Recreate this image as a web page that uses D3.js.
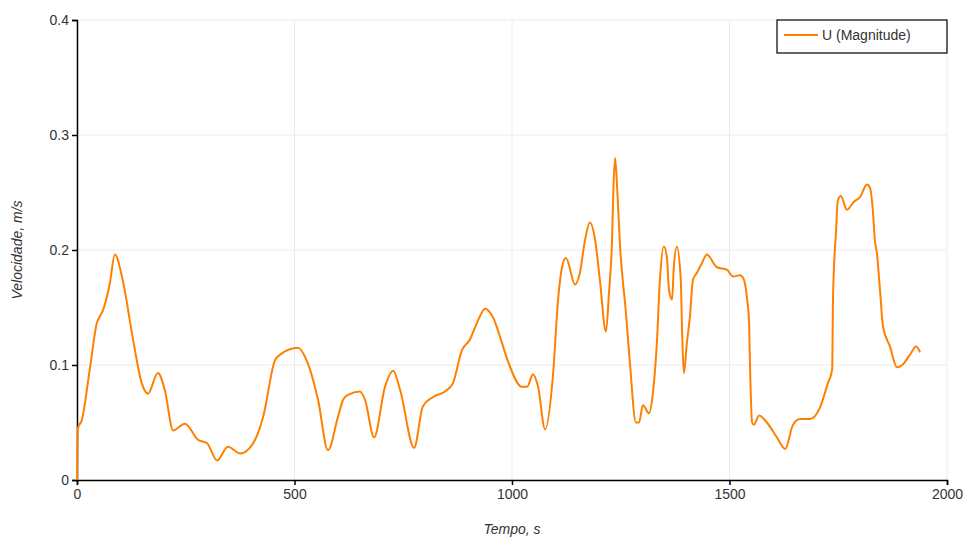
<!DOCTYPE html>
<html>
<head>
<meta charset="utf-8">
<script src="https://cdn.jsdelivr.net/npm/d3@7"></script>
<style>
  body { margin: 0; background: #fff; }
  text { font-family: "Liberation Sans", Arial, sans-serif; fill: #333; }
</style>
</head>
<body>
<svg id="chart" width="973" height="543"></svg>
<script>
// series: time (s) and velocity magnitude (m/s)
var times = [0, 2, 11, 30, 46, 52, 60, 75, 87, 105, 128, 149, 163, 186, 202, 221, 248, 278, 299, 322, 347, 375, 405, 428, 455, 467, 508, 529, 554, 577, 600, 612, 623, 650, 662, 683, 708, 727, 743, 775, 795, 818, 846, 864, 885, 903, 920, 938, 957, 977, 991, 1023, 1035, 1048, 1060, 1076, 1094, 1106, 1115, 1124, 1145, 1156, 1168, 1179, 1191, 1202, 1216, 1223, 1230, 1233, 1237, 1242, 1248, 1262, 1271, 1285, 1292, 1301, 1315, 1324, 1333, 1340, 1349, 1356, 1361, 1368, 1372, 1379, 1388, 1391, 1395, 1402, 1409, 1416, 1425, 1437, 1448, 1471, 1494, 1508, 1524, 1531, 1540, 1545, 1547, 1552, 1556, 1568, 1586, 1609, 1628, 1646, 1662, 1685, 1708, 1726, 1736, 1738, 1745, 1749, 1756, 1770, 1786, 1800, 1816, 1823, 1830, 1834, 1839, 1846, 1853, 1869, 1885, 1897, 1915, 1929, 1938];
var velocity = [0, 0.045, 0.052, 0.098, 0.137, 0.142, 0.148, 0.17, 0.196, 0.174, 0.124, 0.084, 0.075, 0.093, 0.078, 0.043, 0.049, 0.035, 0.032, 0.017, 0.029, 0.023, 0.032, 0.055, 0.104, 0.109, 0.115, 0.103, 0.07, 0.026, 0.055, 0.07, 0.074, 0.077, 0.07, 0.037, 0.081, 0.095, 0.078, 0.028, 0.064, 0.072, 0.077, 0.084, 0.113, 0.122, 0.137, 0.149, 0.141, 0.119, 0.103, 0.081, 0.081, 0.092, 0.081, 0.044, 0.09, 0.157, 0.185, 0.193, 0.17, 0.18, 0.209, 0.224, 0.209, 0.174, 0.129, 0.163, 0.209, 0.252, 0.28, 0.252, 0.206, 0.145, 0.102, 0.05, 0.05, 0.065, 0.058, 0.076, 0.119, 0.174, 0.203, 0.194, 0.165, 0.157, 0.185, 0.203, 0.174, 0.13, 0.093, 0.119, 0.142, 0.174, 0.18, 0.189, 0.196, 0.185, 0.183, 0.177, 0.178, 0.176, 0.159, 0.137, 0.102, 0.05, 0.048, 0.056, 0.05, 0.037, 0.027, 0.048, 0.053, 0.053, 0.063, 0.084, 0.096, 0.159, 0.217, 0.243, 0.247, 0.235, 0.242, 0.246, 0.257, 0.254, 0.232, 0.209, 0.197, 0.165, 0.133, 0.116, 0.098, 0.1, 0.109, 0.116, 0.111];
var xTicks = [0, 500, 1000, 1500, 2000];
var yTicks = [0, 0.1, 0.2, 0.3, 0.4];
var seriesName = "U (Magnitude)";

var margin = { top: 20, right: 26, bottom: 63, left: 77 };
var width = 973 - margin.left - margin.right;
var height = 543 - margin.top - margin.bottom;

var svg = d3.select("#chart")
    .append("g")
    .attr("transform", "translate(" + margin.left + "," + margin.top + ")");

var x = d3.scaleLinear().domain([0, 2000]).range([0, width]);
var y = d3.scaleLinear().domain([0, 0.4]).range([height, 0]);

// grid
svg.append("g")
    .selectAll("line")
    .data(xTicks)
    .enter().append("line")
    .attr("x1", function (d) { return x(d); })
    .attr("x2", function (d) { return x(d); })
    .attr("y1", 0)
    .attr("y2", height)
    .attr("stroke", "#ececec");

svg.append("g")
    .selectAll("line")
    .data(yTicks)
    .enter().append("line")
    .attr("x1", 0)
    .attr("x2", width)
    .attr("y1", function (d) { return y(d); })
    .attr("y2", function (d) { return y(d); })
    .attr("stroke", "#ececec");

// axes
var xAxis = svg.append("g")
    .attr("transform", "translate(0," + height + ")")
    .call(d3.axisBottom(x).tickValues(xTicks).tickSize(5).tickPadding(4).tickFormat(d3.format("d")));

var yAxis = svg.append("g")
    .call(d3.axisLeft(y).tickValues(yTicks).tickSize(5).tickPadding(3)
        .tickFormat(function (d) { return d === 0 ? "0" : d3.format(".1f")(d); }));

[xAxis, yAxis].forEach(function (a) {
    a.select(".domain").attr("stroke", "#000").attr("stroke-width", 1.5);
    a.selectAll(".tick line").attr("stroke", "#000").attr("stroke-width", 1.5);
    a.selectAll("text").attr("font-size", 14).attr("fill", "#333")
        .style("font-family", "Liberation Sans, Arial, sans-serif");
});

// line
var points = times.map(function (t, i) { return [t, velocity[i]]; });

var line = d3.line()
    .x(function (d) { return x(d[0]); })
    .y(function (d) { return y(d[1]); })
    .curve(d3.curveMonotoneX);

svg.append("path")
    .datum(points)
    .attr("fill", "none")
    .attr("stroke", "#ff8000")
    .attr("stroke-width", 2)
    .attr("d", line);

// axis titles
svg.append("text")
    .attr("x", width / 2)
    .attr("y", height + 54)
    .attr("text-anchor", "middle")
    .attr("font-size", 14)
    .attr("font-style", "italic")
    .text("Tempo, s");

svg.append("text")
    .attr("transform", "translate(" + (-55) + "," + (height / 2) + ") rotate(-90)")
    .attr("text-anchor", "middle")
    .attr("font-size", 14)
    .attr("font-style", "italic")
    .text("Velocidade, m/s");

// legend
var legend = svg.append("g")
    .attr("transform", "translate(" + (width - 170) + ",0)");

legend.append("rect")
    .attr("width", 170)
    .attr("height", 33)
    .attr("fill", "#fff")
    .attr("stroke", "#000")
    .attr("stroke-width", 1.2);

legend.append("line")
    .attr("x1", 7).attr("x2", 41)
    .attr("y1", 15).attr("y2", 15)
    .attr("stroke", "#ff8000")
    .attr("stroke-width", 2);

legend.append("text")
    .attr("x", 45)
    .attr("y", 20)
    .attr("font-size", 14)
    .text(seriesName);
</script>
</body>
</html>
